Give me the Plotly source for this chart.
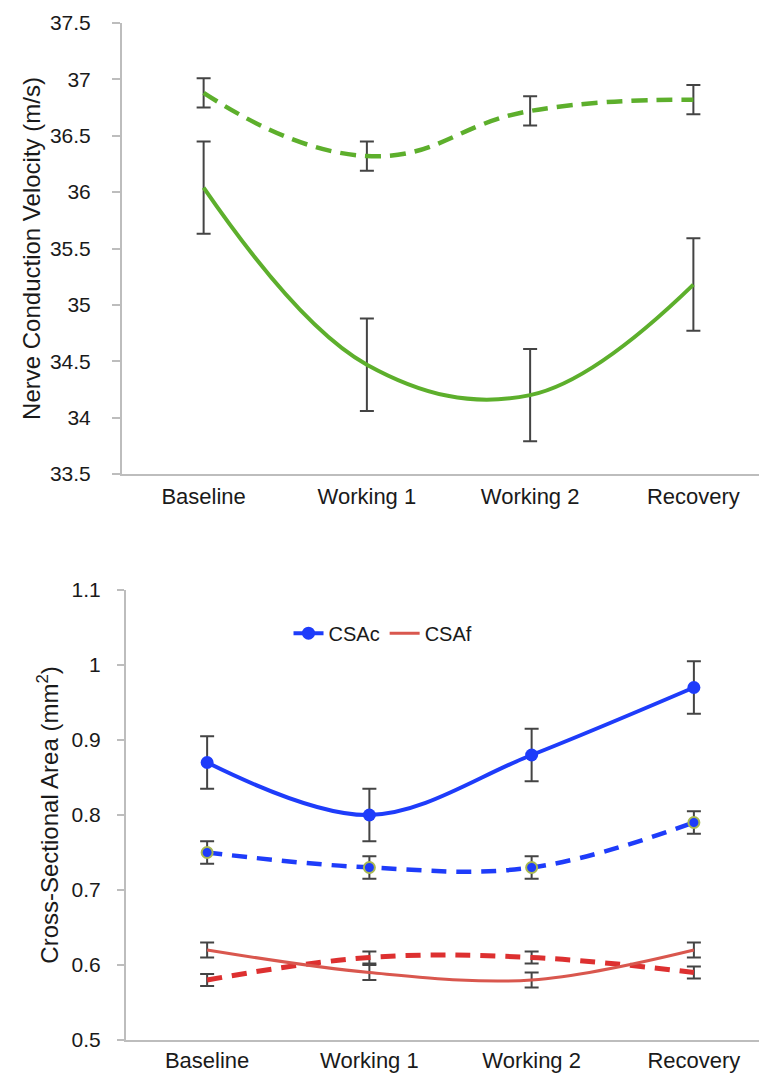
import plotly.graph_objects as go

# ---- data ----
phases = ["Baseline", "Working 1", "Working 2", "Recovery"]

ncv_dashed = [36.88, 36.32, 36.72, 36.82]
ncv_dashed_err = [0.13, 0.13, 0.13, 0.13]
ncv_solid = [36.04, 34.47, 34.20, 35.18]
ncv_solid_err = [0.41, 0.41, 0.41, 0.41]

csac_solid = [0.87, 0.80, 0.88, 0.97]
csac_solid_err = [0.035, 0.035, 0.035, 0.035]
csac_dashed = [0.75, 0.73, 0.73, 0.79]
csac_dashed_err = [0.015, 0.015, 0.015, 0.015]
csaf_solid = [0.62, 0.59, 0.58, 0.62]
csaf_solid_err = [0.01, 0.01, 0.01, 0.01]
csaf_dashed = [0.58, 0.61, 0.61, 0.59]
csaf_dashed_err = [0.008, 0.008, 0.008, 0.008]

ncv_ticks = [33.5, 34, 34.5, 35, 35.5, 36, 36.5, 37, 37.5]
csa_ticks = [0.5, 0.6, 0.7, 0.8, 0.9, 1.0, 1.1]
csa_ticktext = ["0.5", "0.6", "0.7", "0.8", "0.9", "1", "1.1"]

GREEN = "#5DAF2C"
BLUE = "#1E3CFA"
RED_S = "#D9574E"
RED_D = "#DD3030"
ERR = "#444444"
AX = "#BDBDBD"
FONT = "Liberation Sans"

def err(arr, w=7, t=2):
    return dict(type="data", array=arr, visible=True, color=ERR, thickness=t, width=w)

fig = go.Figure()

# top chart
fig.add_trace(go.Scatter(x=phases, y=ncv_dashed, mode="lines", xaxis="x", yaxis="y",
                         line=dict(color=GREEN, width=4.5, dash="16px,9px", shape="spline", smoothing=1.3),
                         error_y=err(ncv_dashed_err), showlegend=False))
fig.add_trace(go.Scatter(x=phases, y=ncv_solid, mode="lines", xaxis="x", yaxis="y",
                         line=dict(color=GREEN, width=4, shape="spline", smoothing=1.1),
                         error_y=err(ncv_solid_err), showlegend=False))

# bottom chart
fig.add_trace(go.Scatter(x=phases, y=csac_dashed, mode="lines+markers", xaxis="x2", yaxis="y2",
                         line=dict(color=BLUE, width=4.5, dash="15px,10px", shape="spline", smoothing=1.1),
                         marker=dict(color=BLUE, size=11, line=dict(color="#A8B850", width=2)),
                         error_y=err(csac_dashed_err), showlegend=False))
fig.add_trace(go.Scatter(x=phases, y=csaf_dashed, mode="lines", xaxis="x2", yaxis="y2",
                         line=dict(color=RED_D, width=5, dash="15px,10px", shape="spline", smoothing=1.1),
                         error_y=err(csaf_dashed_err), showlegend=False))
fig.add_trace(go.Scatter(x=phases, y=csaf_solid, mode="lines", xaxis="x2", yaxis="y2", name="CSAf",
                         line=dict(color=RED_S, width=3, shape="spline", smoothing=1.0),
                         error_y=err(csaf_solid_err)))
fig.add_trace(go.Scatter(x=phases, y=csac_solid, mode="lines+markers", xaxis="x2", yaxis="y2", name="CSAc",
                         line=dict(color=BLUE, width=4, shape="spline", smoothing=1.0),
                         marker=dict(color=BLUE, size=13),
                         error_y=err(csac_solid_err)))

tickfont = dict(family=FONT, size=21, color="#1a1a1a")
xfont = dict(family=FONT, size=22, color="#1a1a1a")
titlefont = dict(family=FONT, size=24, color="#1a1a1a")

fig.update_layout(
    width=767, height=1081,
    margin=dict(l=114, r=0, t=15, b=49),
    paper_bgcolor="white", plot_bgcolor="white",
    font=dict(family=FONT, color="#1a1a1a"),
    xaxis=dict(domain=[0, 1], anchor="y", type="category", range=[-0.5, 3.5],
               showline=True, linecolor=AX, linewidth=2, ticks="", showgrid=False,
               tickfont=xfont, ticklabelstandoff=2, zeroline=False),
    yaxis=dict(domain=[0.5565, 1.0], anchor="x", range=[33.5, 37.5], tickvals=ncv_ticks,
               showline=True, linecolor=AX, linewidth=2, ticks="outside", ticklen=8,
               tickcolor=AX, tickwidth=1.5, showgrid=False, zeroline=False,
               tickfont=tickfont, ticklabelstandoff=17,
               title=dict(text="Nerve Conduction Velocity (m/s)", font=titlefont, standoff=3)),
    xaxis2=dict(domain=[4/653, 1], anchor="y2", type="category", range=[-0.5, 3.5],
                showline=True, linecolor=AX, linewidth=2, ticks="", showgrid=False,
                tickfont=xfont, ticklabelstandoff=0, zeroline=False),
    yaxis2=dict(domain=[0.0, 0.4425], anchor="x2", range=[0.5, 1.1], tickvals=csa_ticks,
                ticktext=csa_ticktext,
                showline=True, linecolor=AX, linewidth=2, ticks="outside", ticklen=7,
                tickcolor=AX, tickwidth=1.5, showgrid=False, zeroline=False,
                tickfont=tickfont, ticklabelstandoff=12,
                title=dict(text="Cross-Sectional Area (mm<sup>2</sup>)", font=titlefont, standoff=6)),
    legend=dict(orientation="h", x=0.255, y=0.400, xanchor="left", yanchor="middle",
                font=dict(family=FONT, size=20, color="#1a1a1a"), traceorder="reversed",
                bgcolor="rgba(0,0,0,0)", itemwidth=30, tracegroupgap=0),
)

fig.write_html("out.html")
